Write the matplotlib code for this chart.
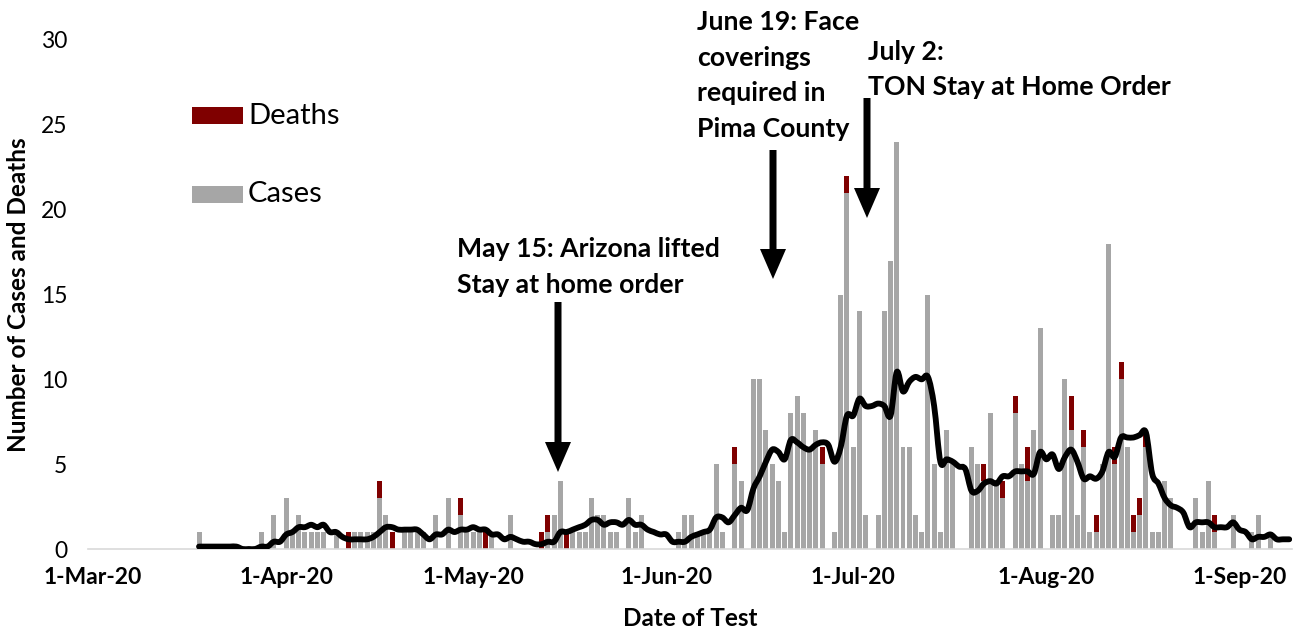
import numpy as np
import pandas as pd
import matplotlib
matplotlib.use('Agg')
import matplotlib.pyplot as plt
import matplotlib.dates as mdates
from matplotlib.path import Path
from matplotlib.patches import PathPatch, Rectangle, FancyArrow
from matplotlib.transforms import IdentityTransform

# ---------------- data ----------------
start_date = '2020-03-18'
cases = [
    1, 0, 0, 0, 0, 0, 0, 0, 0, 0,
    1, 0, 2, 0, 3, 1, 2, 1, 1, 1,
    1, 0, 1, 0, 0, 1, 1, 1, 1, 3,
    2, 0, 0, 1, 1, 1, 1, 0, 2, 0,
    3, 0, 2, 1, 1, 1, 0, 1, 0, 0,
    2, 0, 0, 0, 0, 0, 1, 2, 4, 0,
    1, 1, 1, 3, 2, 2, 1, 1, 0, 3,
    1, 2, 0, 0, 0, 0, 0, 1, 2, 2,
    1, 1, 1, 5, 1, 0, 5, 4, 0, 10,
    10, 7, 5, 4, 1, 8, 9, 8, 6, 7,
    5, 0, 1, 15, 21, 6, 14, 2, 0, 2,
    14, 17, 24, 6, 6, 2, 1, 15, 5, 1,
    7, 5, 0, 0, 6, 5, 4, 8, 4, 3,
    0, 8, 5, 4, 7, 13, 0, 2, 2, 10,
    7, 2, 6, 1, 1, 5, 18, 5, 10, 6,
    1, 2, 6, 1, 1, 4, 3, 0, 0, 0,
    3, 1, 4, 1, 0, 0, 2, 0, 0, 1,
    2, 0, 1, 0, 0, 0,
]
deaths = [
    0, 0, 0, 0, 0, 0, 0, 0, 0, 0,
    0, 0, 0, 0, 0, 0, 0, 0, 0, 0,
    0, 0, 0, 0, 1, 0, 0, 0, 0, 1,
    0, 1, 0, 0, 0, 0, 0, 0, 0, 0,
    0, 0, 1, 0, 0, 0, 1, 0, 0, 0,
    0, 0, 0, 0, 0, 1, 1, 0, 0, 1,
    0, 0, 0, 0, 0, 0, 0, 0, 0, 0,
    0, 0, 0, 0, 0, 0, 0, 0, 0, 0,
    0, 0, 0, 0, 0, 0, 1, 0, 0, 0,
    0, 0, 0, 0, 0, 0, 0, 0, 0, 0,
    1, 0, 0, 0, 1, 0, 0, 0, 0, 0,
    0, 0, 0, 0, 0, 0, 0, 0, 0, 0,
    0, 0, 0, 0, 0, 0, 1, 0, 0, 1,
    0, 1, 0, 2, 0, 0, 0, 0, 0, 0,
    2, 0, 1, 0, 1, 0, 0, 1, 1, 0,
    1, 1, 1, 0, 0, 0, 0, 0, 0, 0,
    0, 0, 0, 1, 0, 0, 0, 0, 0, 0,
    0, 0, 0, 0, 0, 0,
]
tick_dates = ['2020-03-01', '2020-04-01', '2020-05-01', '2020-06-01',
              '2020-07-01', '2020-08-01', '2020-09-01']
tick_labels = ['1-Mar-20', '1-Apr-20', '1-May-20', '1-Jun-20',
               '1-Jul-20', '1-Aug-20', '1-Sep-20']
y_ticks = [0, 5, 10, 15, 20, 25, 30]
annotations = [
    ('2020-05-15', ['May 15: Arizona lifted', 'Stay at home order']),
    ('2020-06-19', ['June 19: Face', 'coverings', 'required in', 'Pima County']),
    ('2020-07-02', ['July 2:', 'TON Stay at Home Order']),
]

# ---------------- derived ----------------
dates = pd.date_range(start_date, periods=len(cases), freq='D')
cases_a = np.array(cases, dtype=float)
deaths_a = np.array(deaths, dtype=float)
avg7 = np.convolve(cases_a, np.ones(7))[:len(cases_a)] / 7.0   # trailing 7-day mean
xd = mdates.date2num(dates)

# ---------------- layout (pixels) ----------------
W, H = 1298, 631
DPI = 100
PX_PER_DAY = 6.23
X_MAR1 = 93.1
AX_L, AX_R = 88, 1292
Y0, Y30 = 549, 40

plt.rcParams['font.family'] = ['Lato', 'DejaVu Sans']
fig = plt.figure(figsize=(W / DPI, H / DPI), dpi=DPI)
ax = fig.add_axes([AX_L / W, (H - Y0) / H, (AX_R - AX_L) / W, (Y0 - Y30) / H])

mar1 = mdates.date2num(pd.Timestamp('2020-03-01'))
ax.set_xlim(mar1 + (AX_L - X_MAR1) / PX_PER_DAY, mar1 + (AX_R - X_MAR1) / PX_PER_DAY)
ax.set_ylim(0, 30)

gray = '#A6A6A6'
red = '#7F0000'
ax.bar(xd, cases_a, width=0.8, color=gray, linewidth=0, zorder=2)
ax.bar(xd, deaths_a, width=0.8, bottom=cases_a, color=red, linewidth=0, zorder=2)

# smoothed moving-average line (Catmull-Rom -> Bezier)
pts = np.column_stack([xd, avg7])
verts = [tuple(pts[0])]
codes = [Path.MOVETO]
n = len(pts)
for i in range(n - 1):
    p0 = pts[i - 1] if i > 0 else pts[i]
    p1 = pts[i]
    p2 = pts[i + 1]
    p3 = pts[i + 2] if i + 2 < n else pts[i + 1]
    c1 = p1 + (p2 - p0) / 6.0
    c2 = p2 - (p3 - p1) / 6.0
    verts += [tuple(c1), tuple(c2), tuple(p2)]
    codes += [Path.CURVE4] * 3
ax.add_patch(PathPatch(Path(verts, codes), fill=False, edgecolor='black',
                       linewidth=4.2, capstyle='round', joinstyle='round', zorder=3))

# axes styling
for s in ['top', 'right', 'left']:
    ax.spines[s].set_visible(False)
ax.spines['bottom'].set_color('#D9D9D9')
ax.spines['bottom'].set_linewidth(1.2)
ax.set_xticks(mdates.date2num(pd.to_datetime(tick_dates)))
ax.set_xticklabels(tick_labels, fontsize=16.5, fontweight='bold')
ax.set_yticks(y_ticks)
ax.set_yticklabels([str(v) for v in y_ticks], fontsize=16.5)
ax.tick_params(axis='both', length=0)
ax.tick_params(axis='x', pad=13)
ax.tick_params(axis='y', pad=15)
ax.set_facecolor('none')

fig.text(19 / W, 1 - 295 / H, 'Number of Cases and Deaths', rotation=90,
         ha='center', va='center', fontsize=17.5, fontweight='bold')
fig.text(690 / W, 1 - 619 / H, 'Date of Test', ha='center', va='center',
         fontsize=17.5, fontweight='bold')

# legend (manual, in pixel coordinates)
def fx(x):
    return x / W

def fy(y):
    return 1 - y / H

fig.add_artist(Rectangle((fx(192), fy(124)), 51 / W, 17 / H, transform=fig.transFigure,
                         color=red, linewidth=0))
fig.add_artist(Rectangle((fx(192), fy(203)), 51 / W, 17 / H, transform=fig.transFigure,
                         color=gray, linewidth=0))
fig.text(fx(248), fy(116), 'Deaths', ha='left', va='center', fontsize=21)
fig.text(fx(248), fy(194), 'Cases', ha='left', va='center', fontsize=21)

# annotations text
text_pos = [(457, [257, 293]), (697, [30, 66, 101, 137]), (868, [60, 95])]
for (d, lines), (tx, bases) in zip(annotations, text_pos):
    for line, b in zip(lines, bases):
        fig.text(fx(tx), fy(b), line, ha='left', va='baseline', fontsize=19.2,
                 fontweight='bold')

# arrows (pixel coordinates)
arrow_px = [(558, 302, 472), (773, 150, 279), (867, 98, 218)]
for x, y_tail, y_tip in arrow_px:
    fig.add_artist(FancyArrow(x, H - y_tail, 0, -(y_tip - y_tail), width=7,
                              head_width=26, head_length=30, length_includes_head=True,
                              color='black', linewidth=0, transform=IdentityTransform()))

fig.savefig('out.png', dpi=DPI)
